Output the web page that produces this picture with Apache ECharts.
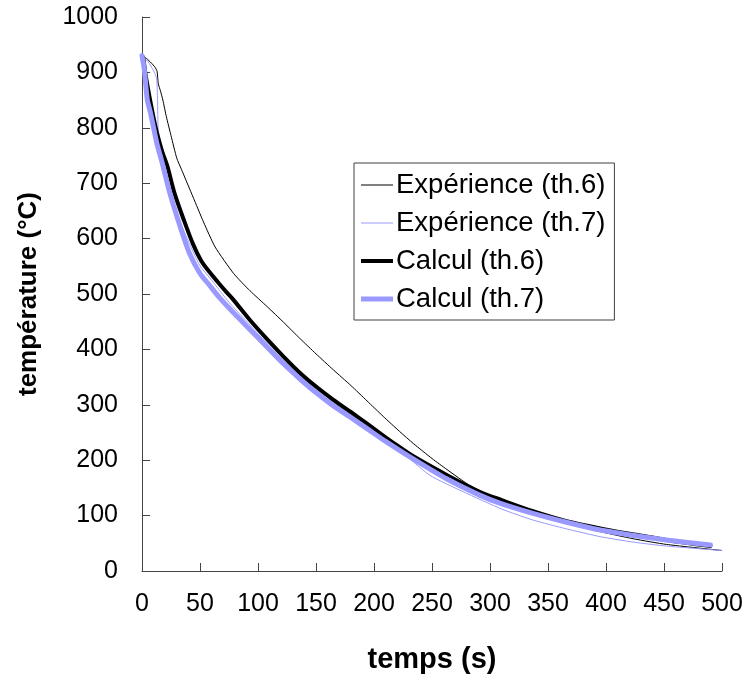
<!DOCTYPE html>
<html>
<head>
<meta charset="utf-8">
<script src="https://cdn.jsdelivr.net/npm/echarts@6/dist/echarts.min.js"></script>
<style>
  html, body { margin: 0; padding: 0; background: #fff; }
  #main { width: 746px; height: 681px; }
</style>
</head>
<body>
<div id="main"></div>
<script>
  // noms des séries (légende)
  var seriesNames = ['Expérience (th.6)', 'Expérience (th.7)', 'Calcul (th.6)', 'Calcul (th.7)'];

  // [temps (s), température (°C)]
  var expTh6 = [
    [0, 930], [4, 925], [8, 917], [11, 910], [13, 902], [14, 880], [16, 866], [18, 850],
    [21, 820], [25, 786], [30, 745], [34, 725], [38, 705], [42, 685], [47, 660], [53, 630],
    [63, 585], [79, 537], [93, 506], [108, 477], [122, 449], [136, 420], [150, 392],
    [165, 363], [180, 335], [194, 307], [208, 279], [222, 252], [234, 230], [250, 203],
    [263, 183], [275, 165], [283, 154], [300, 136], [310, 127], [337, 106], [366, 86],
    [395, 71], [424, 58], [452, 48], [500, 37]
  ];

  var expTh7 = [
    [0, 930], [5, 920], [10, 903], [12.6, 889], [13.4, 850], [14, 795], [17, 755], [20, 726],
    [24, 690], [30, 645], [40, 595], [50, 551], [60, 525], [75, 485], [90, 451], [108, 410],
    [125, 374], [140, 345], [160, 311], [180, 282], [200, 252], [220, 222], [248, 173],
    [277, 143], [310, 112], [337, 92], [366, 76], [395, 62], [424, 52], [452, 45], [500, 37]
  ];

  var calcTh6 = [
    [0, 930], [1, 927], [3, 897], [7, 850], [10, 818], [13, 790], [17, 760], [20, 742],
    [22, 730], [28, 682], [36, 634], [44, 590], [51, 560], [58, 540], [66, 520], [73, 503],
    [79, 489], [93, 453], [108, 418], [122, 387], [136, 358], [150, 333], [165, 309],
    [180, 287], [194, 266], [205, 249], [217, 231], [234, 207], [263, 173], [291, 143],
    [310, 128], [337, 108], [366, 90], [395, 77], [424, 66], [452, 56], [490, 45]
  ];

  var calcTh7 = [
    [0, 930], [2, 905], [4.6, 850], [7, 830], [10, 800], [13, 770], [17, 740], [24, 682],
    [33, 621], [41, 573], [50, 537], [57, 519], [67, 493], [79, 466], [93, 436], [108, 404],
    [122, 374], [136, 347], [150, 322], [165, 298], [180, 277], [194, 257], [210, 234],
    [234, 202], [263, 166], [291, 137], [309, 122], [337, 104], [366, 88], [395, 74],
    [424, 64], [452, 56], [490, 47]
  ];

  var myChart = echarts.init(document.getElementById('main'));

  var axisFont = 'Liberation Sans, Arial, sans-serif';

  var option = {
    animation: false,
    backgroundColor: '#fff',
    grid: {
      left: 142,
      right: 24,
      top: 17,
      bottom: 110
    },
    legend: {
      orient: 'vertical',
      left: 354,
      top: 163,
      padding: [8, 9, 7, 7],
      itemGap: 10,
      itemWidth: 32,
      itemHeight: 14,
      borderColor: '#404040',
      borderWidth: 1,
      backgroundColor: '#fff',
      textStyle: { fontFamily: axisFont, fontSize: 27.5, color: '#000', padding: [0, 0, 0, -2] },
      data: [
        { name: seriesNames[0], icon: 'path://M0,0H32V1H0Z' },
        { name: seriesNames[1], icon: 'path://M0,0H32V1H0Z' },
        { name: seriesNames[2], icon: 'path://M0,0H32V4H0Z' },
        { name: seriesNames[3], icon: 'path://M0,0H32V5H0Z' }
      ]
    },
    xAxis: {
      type: 'value',
      min: 0,
      max: 500,
      interval: 50,
      name: 'temps (s)',
      nameLocation: 'middle',
      nameGap: 74,
      nameTextStyle: { fontFamily: axisFont, fontSize: 29, fontWeight: 'bold', color: '#000' },
      axisLine: { lineStyle: { color: '#444', width: 1 } },
      axisTick: { inside: true, length: 8, lineStyle: { color: '#444' } },
      axisLabel: { fontFamily: axisFont, fontSize: 25, color: '#000', margin: 21 },
      splitLine: { show: false }
    },
    yAxis: {
      type: 'value',
      min: 0,
      max: 1000,
      interval: 100,
      name: 'température (°C)',
      nameLocation: 'middle',
      nameGap: 100,
      nameTextStyle: { fontFamily: axisFont, fontSize: 26, fontWeight: 'bold', color: '#000' },
      axisLine: { show: true, lineStyle: { color: '#444', width: 1 } },
      axisTick: { show: true, inside: true, length: 8, lineStyle: { color: '#444' } },
      axisLabel: {
        fontFamily: axisFont, fontSize: 25, color: '#000', margin: 24,
        formatter: function (v) { return String(v); }
      },
      splitLine: { show: false }
    },
    series: [
      {
        name: seriesNames[0],
        type: 'line',
        data: expTh6,
        showSymbol: false,
        symbol: 'none',
        smooth: 0.2,
        lineStyle: { color: '#000', width: 1 },
        itemStyle: { color: '#000' }
      },
      {
        name: seriesNames[1],
        type: 'line',
        data: expTh7,
        showSymbol: false,
        symbol: 'none',
        smooth: 0.2,
        lineStyle: { color: '#9999ff', width: 1 },
        itemStyle: { color: '#9999ff' }
      },
      {
        name: seriesNames[2],
        type: 'line',
        data: calcTh6,
        showSymbol: false,
        symbol: 'none',
        smooth: 0.3,
        lineStyle: { color: '#000', width: 4, cap: 'round', join: 'round' },
        itemStyle: { color: '#000' }
      },
      {
        name: seriesNames[3],
        type: 'line',
        data: calcTh7,
        showSymbol: false,
        symbol: 'none',
        smooth: 0.3,
        lineStyle: { color: '#9999ff', width: 5, cap: 'round', join: 'round' },
        itemStyle: { color: '#9999ff' }
      }
    ]
  };

  myChart.setOption(option);
</script>
</body>
</html>
